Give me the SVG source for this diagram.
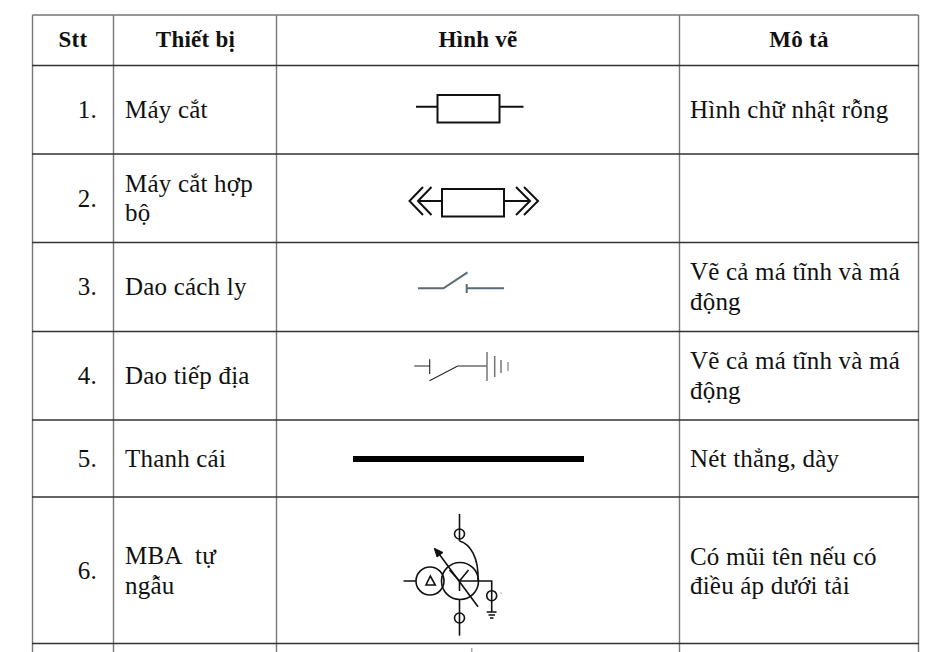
<svg xmlns="http://www.w3.org/2000/svg" width="936" height="652" viewBox="0 0 936 652">
<style>
text{font-family:"Liberation Serif","Times New Roman",serif;font-size:25px;letter-spacing:.2px;fill:#111}
.h{font-weight:bold;font-size:23px;letter-spacing:.25px;text-anchor:middle}
.n{text-anchor:end}
.g{stroke:#777;stroke-width:1.4;fill:none}
.r{stroke:#333;stroke-width:1.3;fill:none}
.s{stroke:#111;stroke-width:2;fill:none}
.t{stroke:#111;stroke-width:1.6;fill:none}
</style>
<rect width="936" height="652" fill="#fff"/>
<g id="table-grid">
<path class="g" d="M32.5 15H918.5M32.500 15V652M113.500 15V652M276.500 15V652M679.500 15V652M918.500 15V652"/>
<path class="r" d="M32 65.500H919M32 154H919M32 242.500H919M32 331.500H919M32 420H919M32 497H919M32 643.500H919"/>
</g>
<g id="header">
<text class="h" x="73" y="47">Stt</text>
<text class="h" x="195.500" y="47">Thiết bị</text>
<text class="h" x="478" y="47">Hình vẽ</text>
<text class="h" x="799" y="47">Mô tả</text>
</g>
<g id="row1">
<text class="n" x="97" y="118">1.</text>
<text x="125" y="118">Máy cắt</text>
<text x="690" y="118">Hình chữ nhật rỗng</text>
<g class="s"><rect x="437.500" y="95" width="62" height="27.500"/><path d="M416 106.700H437.500M499.500 106.700H523.500"/></g>
</g>
<g id="row2">
<text class="n" x="97" y="207">2.</text>
<text x="125" y="192">Máy cắt hợp</text>
<text x="125" y="221">bộ</text>
<g class="s"><rect x="442" y="189" width="62" height="27.500"/><path d="M418 201H442M504 201H530M423 187L409.500 201L423 215M431.500 187L418 201L431.500 215M516 187L530 201L516 215M524 187L538 201L524 215"/></g>
</g>
<g id="row3">
<text class="n" x="97" y="295">3.</text>
<text x="125" y="295">Dao cách ly</text>
<text x="690" y="280">Vẽ cả má tĩnh và má</text>
<text x="690" y="310">động</text>
<path fill="none" stroke="#5b6b75" stroke-width="2" d="M418 288.300H443.500L467.500 272.300M466.700 284V293M467 288.300H504"/>
</g>
<g id="row4">
<text class="n" x="97" y="384">4.</text>
<text x="125" y="384">Dao tiếp địa</text>
<text x="690" y="369">Vẽ cả má tĩnh và má</text>
<text x="690" y="399">động</text>
<path fill="none" stroke="#222" stroke-width="1.100" d="M414.300 366H429.700M429.700 359.300V374M429.500 380.700L457.700 366H487"/>
<path fill="none" stroke="#777" stroke-width="1.500" d="M487 352V381M494.700 356V377M501 360V373"/>
<path fill="none" stroke="#aaa" stroke-width="1.800" d="M508 362V371"/>
</g>
<g id="row5">
<text class="n" x="97" y="467">5.</text>
<text x="125" y="467">Thanh cái</text>
<text x="690" y="467">Nét thẳng, dày</text>
<rect x="353" y="456" width="231" height="6" fill="#000"/>
</g>
<g id="row6">
<text class="n" x="97" y="579">6.</text>
<text x="125" y="564">MBA<tspan x="195">tự</tspan></text>
<text x="125" y="594">ngẫu</text>
<text x="690" y="565">Có mũi tên nếu có</text>
<text x="690" y="594">điều áp dưới tải</text>
<g class="t">
<circle cx="430" cy="581" r="14"/>
<circle cx="460" cy="581" r="18.500"/>
<path d="M403.500 581H416M430.300 576L426 585H435.300Z"/>
<path d="M459.500 514V541"/>
<circle cx="459.500" cy="534" r="5"/>
<path d="M459.500 541C470 544 479 557 478 581"/>
<path d="M459.500 581L449.500 570M459.500 581L468.500 570M459.500 581V591M459.500 581H491.700V590.700"/>
<path d="M459.500 600V635.700"/>
<circle cx="459.500" cy="618" r="5"/>
<circle cx="491.700" cy="595.700" r="5"/>
<path d="M491.700 590V612M486.700 612H496.500M488.500 615H495M490 618H493.500"/>
<path d="M478 606.700L438 552.500"/>
</g>
<path d="M434.300 548.300L443 552.500L437 557Z" fill="#111" stroke="#111"/>
<circle cx="501" cy="593" r=".7" fill="#999"/>
<path d="M471.700 648V652" stroke="#aaa" stroke-width="1.500"/>
</g>
</svg>
